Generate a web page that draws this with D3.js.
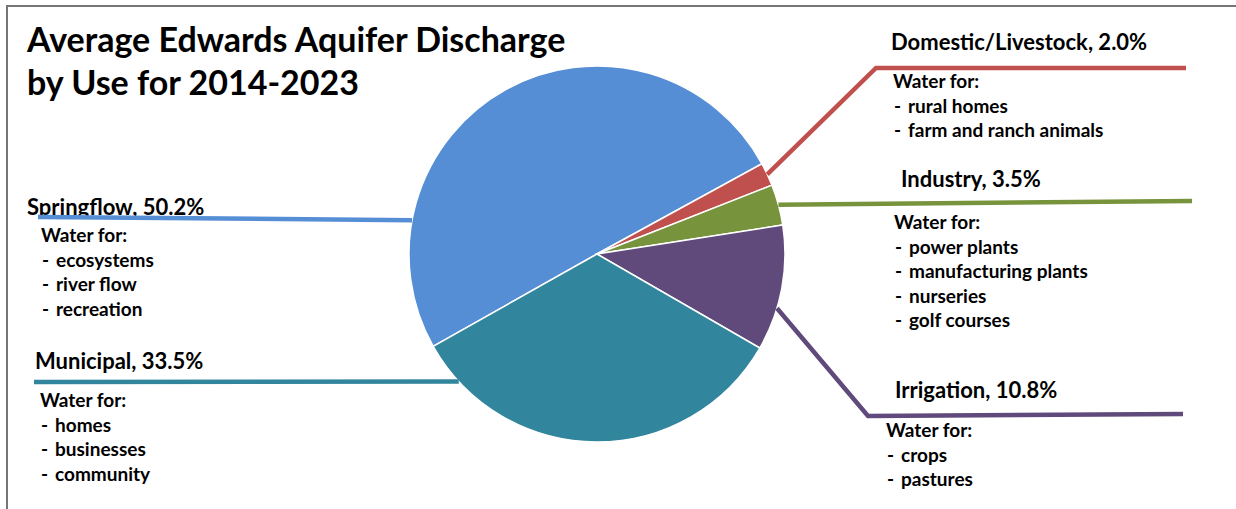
<!DOCTYPE html>
<html lang="en">
<head>
    <meta charset="UTF-8">
    <title>Average Edwards Aquifer Discharge by Use for 2014-2023</title>
    <script src="https://d3js.org/d3.v7.min.js"></script>
    <style>
        body { margin: 0; background: #fff; }
        svg text { font-family: Lato, "Open Sans", sans-serif; font-weight: bold; fill: #000; }
    </style>
</head>
<body>
    <div id="chart"></div>

    <script>
        // discharge share by use, percent
        const categories = ["Springflow", "Domestic/Livestock", "Industry", "Irrigation", "Municipal"];
        const shares = [50.2, 2.0, 3.5, 10.8, 33.5];
        const sliceColors = ["#558ED5", "#C0504D", "#77933C", "#604A7B", "#31859C"];
        const uses = [
            ["ecosystems", "river flow", "recreation"],
            ["rural homes", "farm and ranch animals"],
            ["power plants", "manufacturing plants", "nurseries", "golf courses"],
            ["crops", "pastures"],
            ["homes", "businesses", "community"]
        ];
        const titleLines = ["Average Edwards Aquifer Discharge", "by Use for 2014-2023"];

        const width = 1236, height = 509;
        const cx = 597, cy = 254, radius = 188;

        // where each label sits and how its leader line runs
        const layout = [
            { hx: 27, hy: 215, bx: 41, by: 242, frac: 0.22, path: [[38, 217]] },
            { hx: 891, hy: 50, bx: 893, by: 88, frac: 0.5, path: [[876, 68], [1186, 68]] },
            { hx: 901, hy: 187, bx: 894, by: 229, frac: 0.5, path: [[1192, 201]] },
            { hx: 895, hy: 398, bx: 886, by: 437, frac: 0.66, path: [[868, 416], [1183, 414]] },
            { hx: 35, hy: 369, bx: 40, by: 407, frac: 0.89, path: [[34, 382]] }
        ];

        const svg = d3.select("#chart")
            .append("svg")
            .attr("width", width)
            .attr("height", height);

        // frame
        svg.append("path")
            .attr("d", "M7,509V6H1236")
            .attr("fill", "none")
            .attr("stroke", "#767676")
            .attr("stroke-width", 2);

        const data = categories.map((c, i) => ({ name: c, value: shares[i], color: sliceColors[i], uses: uses[i], lay: layout[i] }));

        const deg = Math.PI / 180;
        const pie = d3.pie().sort(null).value(d => d.value)
            .startAngle(-119.4 * deg).endAngle(240.6 * deg);
        const arcs = pie(data);

        const arc = d3.arc().innerRadius(0).outerRadius(radius);

        const g = svg.append("g").attr("transform", `translate(${cx},${cy})`);
        g.selectAll("path")
            .data(arcs)
            .join("path")
            .attr("d", arc)
            .attr("fill", d => d.data.color)
            .attr("stroke", "#fff")
            .attr("stroke-width", 1.5);

        // title
        const title = svg.append("text").attr("x", 27).attr("y", 52).style("font-size", "34px");
        title.selectAll("tspan")
            .data(titleLines)
            .join("tspan")
            .attr("x", 27)
            .attr("y", (d, i) => 52 + i * 43)
            .text(d => d);

        // labels
        const headSize = 22, bodySize = 19, lineGap = 24.5;
        arcs.forEach(a => {
            const d = a.data, L = d.lay;
            svg.append("text")
                .attr("x", L.hx).attr("y", L.hy)
                .style("font-size", headSize + "px")
                .text(`${d.name}, ${d.value.toFixed(1)}%`);

            svg.append("text")
                .attr("x", L.bx).attr("y", L.by)
                .style("font-size", bodySize + "px")
                .text("Water for:");

            d.uses.forEach((u, j) => {
                const t = svg.append("text")
                    .attr("y", L.by + (j + 1) * lineGap)
                    .style("font-size", bodySize + "px");
                t.append("tspan").attr("x", L.bx + 1).text("-");
                t.append("tspan").attr("x", L.bx + 15).text(u);
            });
        });

        // leader lines, drawn from the slice edge out to the label
        const line = d3.line();
        arcs.forEach(a => {
            const L = a.data.lay;
            const ang = a.startAngle + L.frac * (a.endAngle - a.startAngle);
            const p = d3.pointRadial(ang, radius);
            const pts = [[cx + p[0], cy + p[1]]].concat(L.path);
            svg.append("path")
                .attr("d", line(pts))
                .attr("fill", "none")
                .attr("stroke", a.data.color)
                .attr("stroke-width", 4.5);
        });
    </script>
</body>
</html>
